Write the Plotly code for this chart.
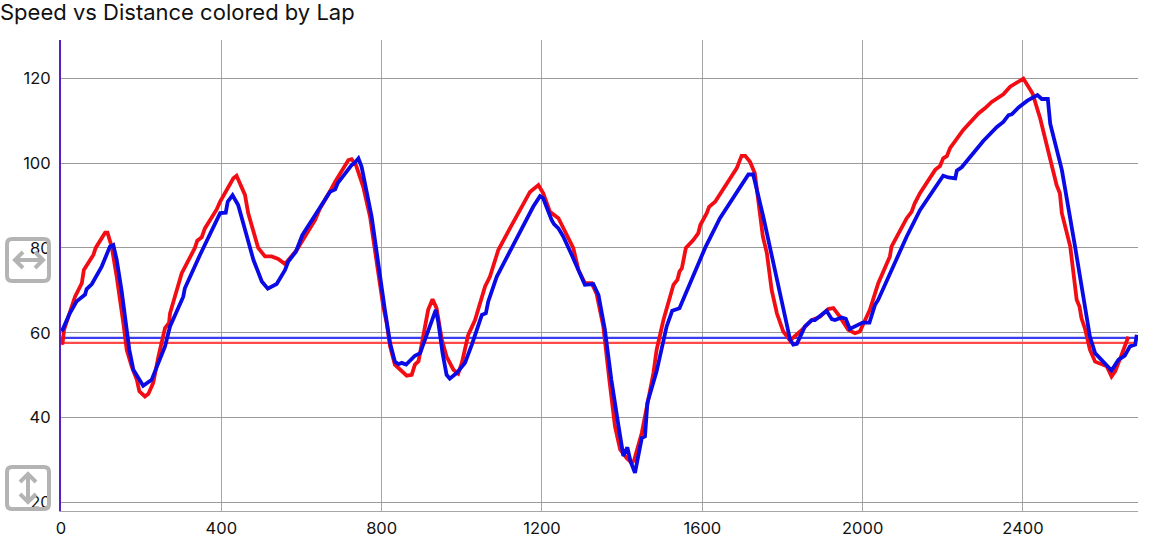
import plotly.graph_objects as go

red_distance = [0, 4, 7.5, 35, 52, 57, 81, 86.5, 110, 116, 126.5, 139, 155.5, 164, 176.5, 189, 195.5, 209.5, 218, 230, 243, 259.5, 269.5, 272, 301, 334, 340, 351, 359, 388, 397, 430, 438, 455, 459, 467, 492, 509, 525.5, 542, 559, 588, 634, 646, 667, 675, 684, 700, 717, 725, 736, 754, 771, 788, 804, 812.5, 821, 833, 846, 862.5, 875, 883, 892, 904, 916, 927, 937, 950, 962, 979, 991, 1000, 1016, 1033, 1058, 1070, 1091, 1120, 1170, 1191, 1203, 1220, 1241, 1278, 1291, 1307, 1324, 1336, 1353, 1368, 1382, 1395, 1411, 1424, 1430, 1449, 1461, 1478, 1486, 1503, 1528, 1538, 1543, 1549, 1559, 1578, 1590, 1595, 1611, 1617, 1632, 1674, 1686, 1698, 1707, 1719, 1731, 1751, 1761, 1773, 1786, 1802, 1819, 1844, 1873, 1894, 1914, 1927, 1943, 1964, 1981, 1993, 2018, 2039, 2051, 2068, 2072, 2110, 2122, 2130, 2143, 2181, 2193, 2201, 2210, 2218, 2251, 2289, 2305, 2322, 2351, 2368, 2401, 2424, 2443, 2484, 2492, 2497, 2518, 2534, 2541, 2546, 2555, 2567, 2580, 2596, 2609, 2621, 2630, 2646, 2663]
red_speed = [57.5, 57.6, 60.7, 68.5, 71.7, 74.8, 78.4, 80, 83.6, 83.6, 80.3, 73.2, 62.3, 56, 52, 49, 46.2, 45, 45.6, 48.2, 54.4, 61.1, 62.3, 64.6, 74, 80, 81.7, 82.5, 84.6, 89, 90.9, 96.4, 97, 93.2, 92.5, 88.2, 80, 78, 78, 77.4, 76.2, 79.5, 86.6, 89.3, 92.5, 94, 95.6, 98, 100.7, 100.9, 99.5, 94.4, 87.4, 76.4, 66.2, 62.3, 56.8, 52.5, 51.3, 49.9, 50.1, 52.5, 53.3, 60, 65.4, 67.9, 65.8, 58.4, 54.4, 51.3, 50.4, 52.9, 59.5, 63, 70.9, 73.2, 79.5, 84.6, 93.2, 94.8, 92.9, 88.5, 87, 80, 74.8, 71.7, 71.7, 69.3, 61.5, 49, 38, 32.5, 30.5, 29.3, 30, 36.4, 42.6, 50.5, 56, 63, 71.3, 72.5, 74.4, 75.2, 80, 81.9, 83.5, 85.4, 88.2, 89.7, 90.9, 97.2, 98.8, 101.7, 101.7, 100.3, 97.6, 82.7, 78.8, 70.1, 64.6, 60.3, 58.2, 60.3, 63, 63.8, 65.6, 65.8, 63.8, 60.7, 59.9, 60.3, 65.4, 71.7, 74.4, 78, 80.3, 87, 88.5, 90.5, 92.9, 98.4, 99.3, 101.1, 101.6, 103.5, 107.8, 111.7, 112.9, 114.4, 116.2, 118, 119.9, 116.4, 110.5, 94.8, 92.9, 88.2, 80.3, 67.8, 66.2, 63.4, 60.9, 56, 53.2, 52.5, 52.1, 49.7, 50.9, 54.8, 59.1]

blue_distance = [2, 22, 39, 60, 64, 77, 101.5, 122, 130.5, 139, 151, 168, 170.5, 180.5, 205, 226, 239, 259.5, 272, 305, 309, 347, 397, 411, 416, 428, 442, 480, 501, 516, 538, 559, 567, 586, 602, 646, 671, 684, 690, 725, 733, 742, 750, 775, 792, 808, 821, 833, 842, 850, 861, 875, 883, 896, 908, 935, 941, 952, 962, 970, 987, 1008, 1025, 1037, 1050, 1060, 1066, 1087, 1129, 1178, 1195, 1203, 1224, 1230, 1241, 1253, 1274, 1295, 1307, 1328, 1341, 1357, 1373, 1391, 1403, 1413, 1421, 1432, 1440, 1449, 1457, 1463, 1486, 1499, 1511, 1525, 1543, 1607, 1644, 1715, 1727, 1752, 1777, 1819, 1827, 1836, 1856, 1873, 1881, 1910, 1923, 1931, 1948, 1958, 1968, 1981, 2000, 2017, 2031, 2039, 2077, 2110, 2143, 2201, 2214, 2231, 2235, 2247, 2301, 2335, 2351, 2364, 2372, 2389, 2411, 2430, 2436, 2447, 2462, 2468, 2497, 2530, 2551, 2567, 2580, 2592, 2605, 2621, 2638, 2654, 2667, 2680, 2684]
blue_speed = [60.3, 64.6, 67.4, 69, 70.3, 71.5, 75.6, 80.3, 80.7, 77.2, 70.1, 58.8, 56, 51.3, 47.5, 48.9, 52.1, 56.8, 61.5, 68.5, 70.5, 78.4, 88.2, 88.3, 90.9, 92.4, 90.1, 77.2, 72.1, 70.4, 71.5, 74.8, 76.8, 79.1, 83, 89.3, 93.2, 93.8, 95.2, 99.5, 100.1, 101.1, 99.1, 87.4, 75.6, 65.4, 57.6, 53.2, 52.6, 52.9, 52.5, 54, 54.6, 55.2, 58.4, 65.4, 62.7, 55.2, 50.1, 49.2, 50.5, 52.9, 57.2, 60.7, 64.2, 64.6, 67.4, 73.2, 80.7, 89.7, 92.2, 91.7, 86.6, 85.6, 84.6, 82.7, 78.4, 73.6, 71.3, 71.5, 68.9, 60.7, 49, 38, 31, 33, 29.7, 27, 30.5, 35.2, 35.6, 43.5, 50.9, 56, 61.5, 65.2, 65.8, 80, 87, 97.3, 97.3, 87.4, 76.4, 58.4, 57.2, 57.4, 61.5, 63, 63, 65.2, 63.2, 63, 63.6, 63.3, 60.9, 61.5, 62.4, 62.4, 66.6, 67.8, 75.6, 82.7, 88.9, 97, 96.6, 96.4, 98.2, 99, 105.2, 108.5, 109.7, 111.3, 111.5, 113.1, 114.7, 115.8, 116, 115.1, 115.1, 109.3, 98.4, 80.3, 68.5, 59.1, 55.2, 54, 52.9, 51.1, 53.6, 54.6, 56.8, 57.2, 59.5]

red_ref_x = [0, 2684]
red_ref_y = [57.6, 57.6]
blue_ref_x = [0, 2684]
blue_ref_y = [58.8, 58.8]

x_ticks = [0, 400, 800, 1200, 1600, 2000, 2400]
y_ticks = [20, 40, 60, 80, 100, 120]

RED = "#f20d14"
BLUE = "#0a0ae6"
FONT = "Inter, Liberation Sans, sans-serif"

W, H = 1170, 542
L, R, T, B = 61, 32, 40, 31

fig = go.Figure()
fig.add_trace(go.Scatter(x=red_ref_x, y=red_ref_y, mode="lines", showlegend=False,
                         line=dict(color="#ff4a4a", width=2.2)))
fig.add_trace(go.Scatter(x=blue_ref_x, y=blue_ref_y, mode="lines", showlegend=False,
                         line=dict(color="#3d3df0", width=2.2)))
fig.add_trace(go.Scatter(x=red_distance, y=red_speed, mode="lines", showlegend=False,
                         line=dict(color=RED, width=3.8)))
fig.add_trace(go.Scatter(x=blue_distance, y=blue_speed, mode="lines", showlegend=False,
                         line=dict(color=BLUE, width=3.8)))


def icon_shapes(cy_px, glyph):
    """Grey rounded-square control, placed in pixels relative to the plot's left edge."""
    anchor_y = 1 - (cy_px - T) / (H - T - B)
    common = dict(type="path", xref="paper", yref="paper", xsizemode="pixel", ysizemode="pixel",
                  xanchor=0, yanchor=anchor_y, line=dict(color="#b4b4b4", width=4), layer="above")
    box = ("M -49 -21 L -17 -21 Q -12 -21 -12 -16 L -12 16 Q -12 21 -17 21 L -49 21 "
           "Q -54 21 -54 16 L -54 -16 Q -54 -21 -49 -21 Z")
    return [dict(path=box, **common), dict(path=glyph, **common)]


horiz = "M -46 0 L -18 0 M -38 -8 L -46 0 L -38 8 M -26 -8 L -18 0 L -26 8"
vert = "M -33 -14 L -33 14 M -41 6 L -33 14 L -25 6 M -41 -6 L -33 -14 L -25 -6"

fig.update_layout(
    width=W, height=H, autosize=False,
    margin=dict(l=L, r=R, t=T, b=B, pad=0),
    paper_bgcolor="white", plot_bgcolor="white",
    font=dict(family=FONT, size=16.5, color="#111111"),
    title=dict(text="Speed vs Distance colored by Lap", xref="container", yref="container",
               x=0, xanchor="left", y=1 - 12 / H, yanchor="middle", automargin=False,
               pad=dict(l=0, r=0, t=0, b=0),
               font=dict(family=FONT, size=22, color="#111111")),
    shapes=icon_shapes(260, horiz) + icon_shapes(488, vert),
    xaxis=dict(range=[0, 2687], tickvals=x_ticks, showgrid=True, gridcolor="#a6a6a6", gridwidth=1,
               zeroline=False, showline=True, linecolor="#a6a6a6", linewidth=1, automargin=False,
               ticks="outside", ticklen=2, tickcolor="rgba(0,0,0,0)"),
    yaxis=dict(range=[18, 129], tickvals=y_ticks, showgrid=True, gridcolor="#9a9a9a", gridwidth=1,
               zeroline=False, showline=True, linecolor="#5a1fc4", linewidth=2, automargin=False,
               ticks="outside", ticklen=5, tickcolor="rgba(0,0,0,0)"),
)

fig.write_html("out.html", config=dict(displayModeBar=False),
               post_script="document.body.style.margin='0';")
